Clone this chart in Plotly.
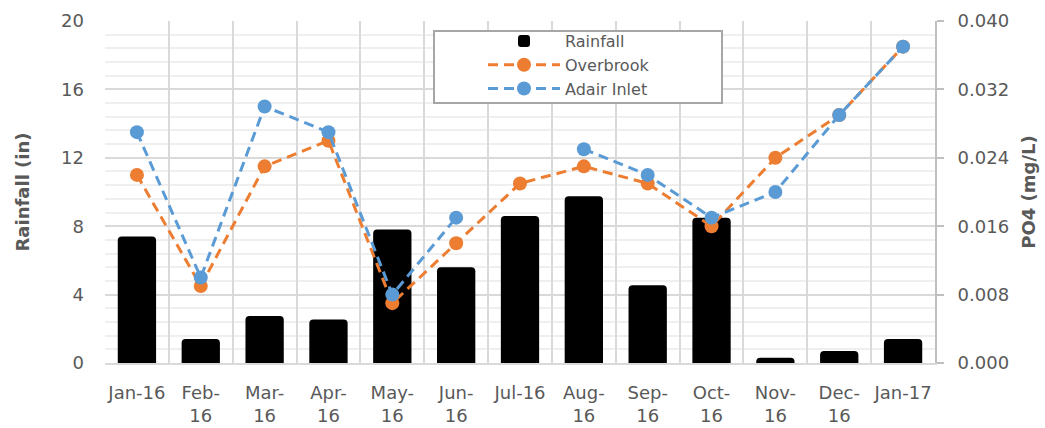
import plotly.graph_objects as go

# Monthly rainfall and PO4 concentrations, Jan 2016 – Jan 2017
months = ["Jan-16", "Feb-16", "Mar-16", "Apr-16", "May-16", "Jun-16", "Jul-16",
          "Aug-16", "Sep-16", "Oct-16", "Nov-16", "Dec-16", "Jan-17"]
month_labels = ["Jan-16", "Feb-<br>16", "Mar-<br>16", "Apr-<br>16", "May-<br>16",
                "Jun-<br>16", "Jul-16", "Aug-<br>16", "Sep-<br>16", "Oct-<br>16",
                "Nov-<br>16", "Dec-<br>16", "Jan-17"]
rainfall_in = [7.4, 1.4, 2.75, 2.55, 7.8, 5.6, 8.6, 9.75, 4.55, 8.5, 0.3, 0.7, 1.4]
overbrook_po4 = [0.022, 0.009, 0.023, 0.026, 0.007, 0.014, 0.021,
                 0.023, 0.021, 0.016, 0.024, 0.029, 0.037]
adair_po4 = [0.027, 0.010, 0.030, 0.027, 0.008, 0.017, None,
             0.025, 0.022, 0.017, 0.020, 0.029, 0.037]

FONT = "DejaVu Sans"
GREY_TXT = "#595959"
GRID = "#d9d9d9"
ORANGE = "#ED7D31"
BLUE = "#5B9BD5"

fig = go.Figure()

fig.add_trace(go.Bar(
    x=months, y=rainfall_in, name="Rainfall",
    marker=dict(color="black", cornerradius=4, line=dict(width=0)),
    width=0.6, yaxis="y",
))
fig.add_trace(go.Scatter(
    x=months, y=overbrook_po4, name="Overbrook", yaxis="y2",
    mode="lines+markers",
    line=dict(color=ORANGE, width=3, dash="10px,6px"),
    marker=dict(color=ORANGE, size=14),
    connectgaps=False,
))
fig.add_trace(go.Scatter(
    x=months, y=adair_po4, name="Adair Inlet", yaxis="y2",
    mode="lines+markers",
    line=dict(color=BLUE, width=3, dash="10px,6px"),
    marker=dict(color=BLUE, size=14),
    connectgaps=False,
))

# legend frame
L, R, T, B = 105, 935, 21, 363
pw, ph = R - L, B - T
fig.add_shape(
    type="rect", xref="paper", yref="paper", layer="above",
    x0=(434 - L) / pw, x1=(722 - L) / pw,
    y0=(B - 103) / ph, y1=(B - 31) / ph,
    fillcolor="white", line=dict(color="#a6a6a6", width=2),
)

fig.update_layout(
    width=1045, height=428,
    margin=dict(l=L, r=1045 - R, t=T, b=428 - B),
    paper_bgcolor="white", plot_bgcolor="white",
    font=dict(family=FONT, size=18, color=GREY_TXT),
    bargap=0.4,
    showlegend=True,
    legend=dict(
        x=(483 - L) / pw, y=(B - 24) / ph, xanchor="left", yanchor="top",
        bgcolor="rgba(0,0,0,0)", borderwidth=0,
        font=dict(family=FONT, size=16, color=GREY_TXT),
        itemwidth=72, tracegroupgap=0,
    ),
    xaxis=dict(
        type="category", tickmode="array", tickvals=months, ticktext=month_labels,
        tickson="boundaries", ticks="", tickangle=0, automargin=False,
        showgrid=True, gridcolor=GRID, gridwidth=2,
        showline=True, linecolor=GRID, linewidth=2,
        tickfont=dict(family=FONT, size=18, color=GREY_TXT),
        ticklabelstandoff=12,
        range=[-0.5, 12.5],
    ),
    yaxis=dict(
        range=[0, 20], dtick=4, tick0=0, automargin=False,
        showgrid=True, gridcolor=GRID, gridwidth=2,
        minor=dict(dtick=0.8, showgrid=True, gridcolor="#efefef", gridwidth=2),
        showline=False, zeroline=False, ticks="",
        tickfont=dict(family=FONT, size=18, color=GREY_TXT),
        ticklabelstandoff=20,
        title=dict(text="<b>Rainfall (in)</b>", font=dict(family=FONT, size=18, color=GREY_TXT),
                   standoff=26),
    ),
    yaxis2=dict(
        overlaying="y", side="right", range=[0, 0.04], dtick=0.008, tick0=0,
        automargin=False,
        tickformat=".3f", showgrid=False, zeroline=False,
        showline=True, linecolor="#bfbfbf", linewidth=2,
        ticks="outside", ticklen=7, tickcolor="#bfbfbf", tickwidth=2,
        tickfont=dict(family=FONT, size=18, color=GREY_TXT),
        ticklabelstandoff=10,
        title=dict(text="<b>PO4 (mg/L)</b>", font=dict(family=FONT, size=18, color=GREY_TXT),
                   standoff=14),
    ),
)

fig.write_html("out.html")
